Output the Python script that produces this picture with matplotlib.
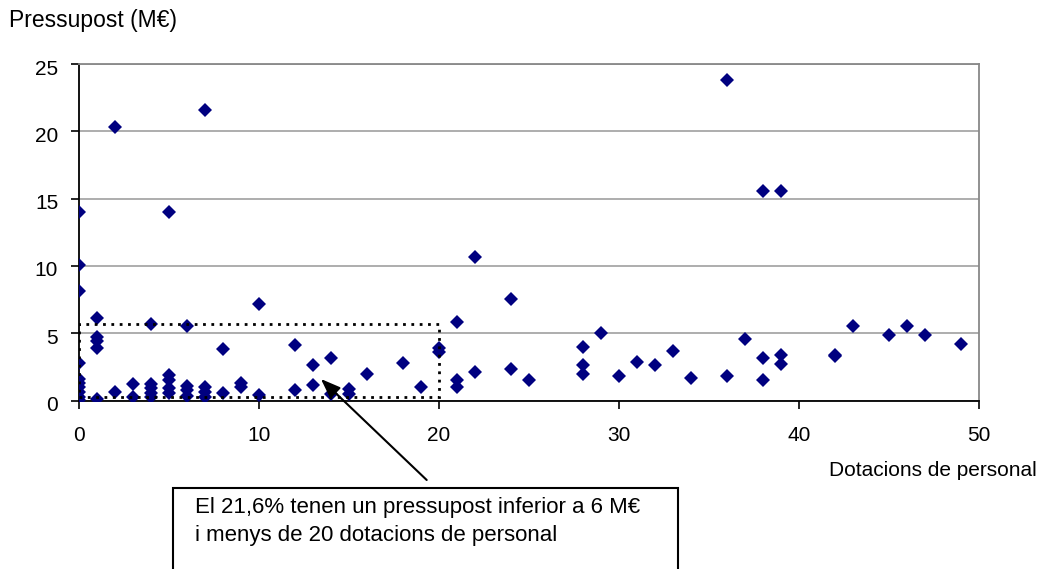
import matplotlib
matplotlib.use("Agg")
import matplotlib.pyplot as plt
from matplotlib.patches import Rectangle
from matplotlib.transforms import ScaledTranslation

# ------------------------------------------
# Data
# ------------------------------------------

dotacions = [
    0, 0, 0, 0, 0, 0, 0, 0, 0, 0,
    1, 1, 1, 1, 1,
    2, 2,
    3, 3,
    4, 4, 4, 4, 4,
    5, 5, 5, 5, 5,
    6, 6, 6, 6,
    7, 7, 7, 7,
    8, 8,
    9, 9,
    10, 10,
    12, 12,
    13, 13,
    14, 14,
    15, 15,
    16, 18, 19,
    20, 20,
    21, 21, 21,
    22, 22,
    24, 24,
    25,
    28, 28, 28,
    29, 30, 31, 32, 33, 34,
    36, 36,
    37,
    38, 38, 38,
    39, 39, 39,
    42, 42,
    43, 45, 46, 47, 49,
]

pressupost = [
    13.97, 10.1, 8.1, 2.76, 1.6, 1.28, 0.98, 0.65, 0.28, 0.04,
    6.1, 4.69, 4.44, 3.92, 0.09,
    20.33, 0.65,
    1.22, 0.28,
    5.68, 1.22, 0.9, 0.58, 0.28,
    13.97, 1.89, 1.52, 0.9, 0.58,
    5.55, 1.08, 0.78, 0.36,
    21.55, 0.98, 0.65, 0.28,
    3.8, 0.53,
    1.32, 0.98,
    7.14, 0.41,
    4.12, 0.78,
    2.63, 1.15,
    3.13, 0.48,
    0.83, 0.48,
    1.99, 2.76, 0.98,
    3.9, 3.6,
    5.83, 1.5, 0.98,
    10.67, 2.14,
    7.53, 2.36,
    1.55,
    3.97, 2.66, 1.94,
    5.0, 1.82, 2.88, 2.61, 3.7, 1.69,
    23.8, 1.8,
    4.6,
    15.55, 3.15, 1.55,
    15.55, 3.35, 2.73,
    3.3, 3.4,
    5.55, 4.9, 5.55, 4.9, 4.2,
]

# zone highlighted with the dotted box
zona_x = [0, 20]
zona_y = [0.25, 5.7]

nota = ["El 21,6% tenen un pressupost inferior a 6 M€",
        "i menys de 20 dotacions de personal"]
punt_fletxa = (13.44, 1.6)

# ------------------------------------------
# Figure
# ------------------------------------------

plt.rcParams["font.family"] = ["Liberation Sans", "DejaVu Sans"]

fig = plt.figure(figsize=(10.39, 5.69), dpi=100)
ax = fig.add_axes([0.076, 0.2961, 0.8663, 0.5914])

ax.plot(dotacions, pressupost, linestyle="none", marker="D",
        markersize=7, color="#000080", markeredgewidth=0, zorder=3)

ax.set_xlim(0, 50)
ax.set_ylim(0, 25)
ax.set_xticks(range(0, 51, 10))
ax.set_yticks(range(0, 26, 5))

ax.grid(axis="y", color="#a0a0a0", linewidth=1.2)
ax.set_axisbelow(True)

ax.spines["left"].set_color("black")
ax.spines["bottom"].set_color("black")
ax.spines["top"].set_color("#888888")
ax.spines["right"].set_color("#888888")
for s in ax.spines.values():
    s.set_linewidth(1.3)

ax.tick_params(axis="both", direction="out", length=6, width=1.2,
               labelsize=15, color="black")
ax.tick_params(axis="y", pad=9)
ax.tick_params(axis="x", pad=12)

# y tick labels sit a bit lower than their ticks
shift = ScaledTranslation(0, -3 / 100, fig.dpi_scale_trans)
for lab in ax.get_yticklabels():
    lab.set_transform(lab.get_transform() + shift)

# dotted rectangle
ax.add_patch(Rectangle((zona_x[0], zona_y[0]), zona_x[1] - zona_x[0],
                       zona_y[1] - zona_y[0], fill=False,
                       linestyle=(0, (1, 2)), linewidth=2, edgecolor="black",
                       zorder=4))

# axis titles
fig.text(9 / 1039, 1 - 20 / 569, "Pressupost (M€)", fontsize=16.5,
         ha="left", va="center")
fig.text(1037 / 1039, 1 - 471 / 569, "Dotacions de personal", fontsize=15,
         ha="right", va="center")

# annotation box (cut at the bottom of the figure)
fig.patches.append(Rectangle((173 / 1039, -0.05), (678 - 173) / 1039,
                             1 - 488 / 569 + 0.05, transform=fig.transFigure,
                             fill=True, facecolor="white", edgecolor="black",
                             linewidth=1.5, figure=fig))
fig.text(195 / 1039, 1 - 507 / 569, nota[0], fontsize=16,
         ha="left", va="center")
fig.text(195 / 1039, 1 - 535 / 569, nota[1], fontsize=16,
         ha="left", va="center")

ax.annotate("", xy=punt_fletxa, xycoords="data",
            xytext=(426.7 / 1039, 1 - 480 / 569), textcoords="figure fraction",
            arrowprops=dict(arrowstyle="-|>,head_length=1.2,head_width=0.45",
                            color="black", linewidth=1.5, shrinkA=0, shrinkB=0),
            annotation_clip=False, zorder=5)

fig.savefig("out.png", dpi=100)
